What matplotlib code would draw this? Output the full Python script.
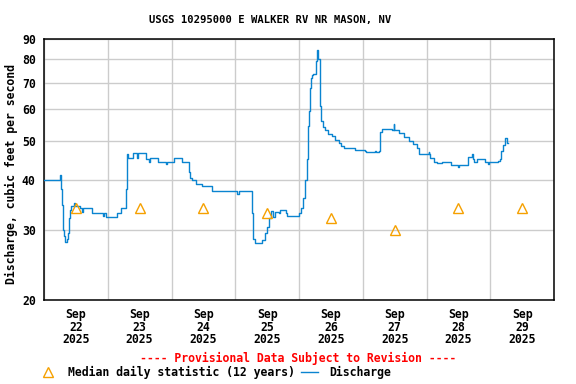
import numpy as np
import matplotlib
matplotlib.use("Agg")
import matplotlib.pyplot as plt
import matplotlib.dates as mdates
from matplotlib.lines import Line2D
import pandas as pd

# discharge, hours after 2025-09-22 00:00 and cfs (step values)
q_hours = [0, 6.2, 6.5, 6.8, 7.1, 7.6, 8.0, 8.5, 8.9, 9.4, 9.8, 10.0, 11.2, 11.5,
           13.5, 14.2, 14.6, 18.0, 22.1, 22.5, 23.2, 27.4, 28.9, 30.9, 31.1, 31.2,
           31.5, 33.5, 35.0, 35.4, 38.5, 39.5, 40.0, 42.8, 46.0, 46.4, 49.1, 52.1,
           54.4, 55.0, 55.9, 57.4, 59.6, 63.4, 72.8, 73.3, 78.4, 78.8, 79.5, 82.1,
           83.3, 84.0, 84.8, 85.5, 86.3, 87.0, 88.5, 89.0, 91.0, 91.4, 96.0, 96.8,
           97.5, 98.3, 99.0, 99.4, 99.8, 100.0, 100.4, 100.9, 101.4, 102.3, 102.9,
           103.1, 103.8, 103.9, 104.4, 105.0, 105.8, 106.9, 108.4, 109.5, 111.0,
           111.8, 112.9, 117.0, 121.0, 121.4, 124.5, 124.9, 126.0, 126.4, 127.1,
           131.0, 131.6, 131.9, 133.5, 135.4, 137.3, 139.1, 140.3, 141.0, 144.8,
           145.1, 145.5, 146.9, 148.1, 150.0, 153.4, 156.0, 156.4, 159.8, 161.0,
           161.4, 162.0, 163.1, 166.1, 167.0, 167.4, 171.0, 171.6, 172.1, 172.9,
           173.6, 174.4, 174.75]
q_cfs = [40.0, 41.0, 38.0, 34.5, 30.0, 29.0, 28.0, 28.5, 29.5, 32.0, 33.5, 34.3, 35.0, 34.3,
         33.9, 33.2, 33.9, 33.0, 32.5, 33.0, 32.2, 33.0, 33.9, 38.0, 41.0, 46.5,
         45.3, 46.6, 45.3, 46.6, 45.0, 44.4, 45.3, 44.3, 43.8, 44.3, 45.4, 44.2,
         41.9, 40.5, 40.0, 39.0, 38.5, 37.5, 36.8, 37.5, 33.0, 28.5, 27.8, 28.3,
         29.5, 30.5, 32.0, 33.4, 32.2, 33.2, 33.0, 33.6, 33.0, 32.5, 33.0, 34.0,
         36.0, 40.0, 45.0, 54.6, 59.6, 68.0, 71.8, 73.0, 73.5, 79.5, 84.7,
         80.0, 72.0, 61.0, 56.0, 54.3, 53.4, 52.0, 51.5, 50.3, 49.3,
         48.5, 48.0, 47.5, 47.3, 46.8, 47.3, 46.8, 47.3, 52.6, 53.6,
         53.3, 55.0, 53.3, 52.5, 51.1, 50.0, 49.2, 48.0, 46.5, 47.0,
         46.5, 45.4, 44.4, 44.0, 44.4, 43.5, 43.0, 43.5, 45.6, 46.5,
         45.2, 44.4, 45.2, 44.4, 43.8, 44.4, 44.5, 45.2, 47.3, 48.8,
         51.0, 49.3, 49.3]

# median daily statistic, plotted at noon of each day
med_days = ["2025-09-22", "2025-09-23", "2025-09-24", "2025-09-25",
            "2025-09-26", "2025-09-27", "2025-09-28", "2025-09-29"]
med_cfs = [34, 34, 34, 33, 32, 30, 34, 34]

y_ticks = [20, 30, 40, 50, 60, 70, 80, 90]

plt.rcParams["font.family"] = "DejaVu Sans Mono"
plt.rcParams["font.weight"] = "bold"

start = pd.Timestamp("2025-09-22")
t = start + pd.to_timedelta(q_hours, unit="h")
tm = pd.to_datetime(med_days) + pd.Timedelta(hours=12)

fig = plt.figure(figsize=(5.76, 3.84), dpi=100)
ax = fig.add_axes([44/576, 84/384, 510/576, 261/384])

ax.plot(t, q_cfs, color="#0a84d0", lw=1.0, drawstyle="steps-post", zorder=3)
ax.plot(tm, med_cfs, ls="none", marker="^", ms=7.5, mfc="none", mec="#f5a000",
        mew=1.0, zorder=4)

ax.set_yscale("log")
ax.set_ylim(20, 90)
ax.yaxis.set_major_locator(matplotlib.ticker.FixedLocator(y_ticks))
ax.yaxis.set_major_formatter(matplotlib.ticker.FixedFormatter([str(v) for v in y_ticks]))
ax.yaxis.set_minor_locator(matplotlib.ticker.NullLocator())

ax.set_xlim(start, start + pd.Timedelta(days=8))
ax.xaxis.set_major_locator(mdates.DayLocator())
ax.xaxis.set_major_formatter(matplotlib.ticker.NullFormatter())
ax.xaxis.set_minor_locator(mdates.HourLocator(byhour=12))
ax.xaxis.set_minor_formatter(mdates.DateFormatter("%b\n%d\n%Y"))

ax.grid(True, which="major", color="#cccccc", lw=1.0)
ax.set_axisbelow(True)
ax.tick_params(which="both", length=0, labelsize=8.3)
ax.tick_params(axis="y", pad=6)
ax.tick_params(axis="x", which="minor", pad=6)
for lab in ax.get_xticklabels(minor=True):
    lab.set_linespacing(0.95)
for s in ax.spines.values():
    s.set_linewidth(1.1)

fig.text(270/576, 1 - 20/384, "USGS 10295000 E WALKER RV NR MASON, NV",
         ha="center", va="center", fontsize=7.6)
fig.text(11/576, 1 - 174/384, "Discharge, cubic feet per second",
         rotation=90, ha="center", va="center", fontsize=8.3)
fig.text(298/576, 1 - 358/384, "---- Provisional Data Subject to Revision ----",
         ha="center", va="center", fontsize=8.3, color="red")

handles = [Line2D([], [], ls="none", marker="^", ms=7.5, mfc="none", mec="#f5a000"),
           Line2D([], [], color="#0a84d0", lw=1.0)]
fig.legend(handles, ["Median daily statistic (12 years)", "Discharge"],
           loc="center left", bbox_to_anchor=(40/576, 1 - 372/384), ncol=2,
           frameon=False, fontsize=8.3, handlelength=1.4, handletextpad=1.0,
           columnspacing=0.6, borderpad=0, borderaxespad=0)

fig.savefig("out.png", dpi=100)
